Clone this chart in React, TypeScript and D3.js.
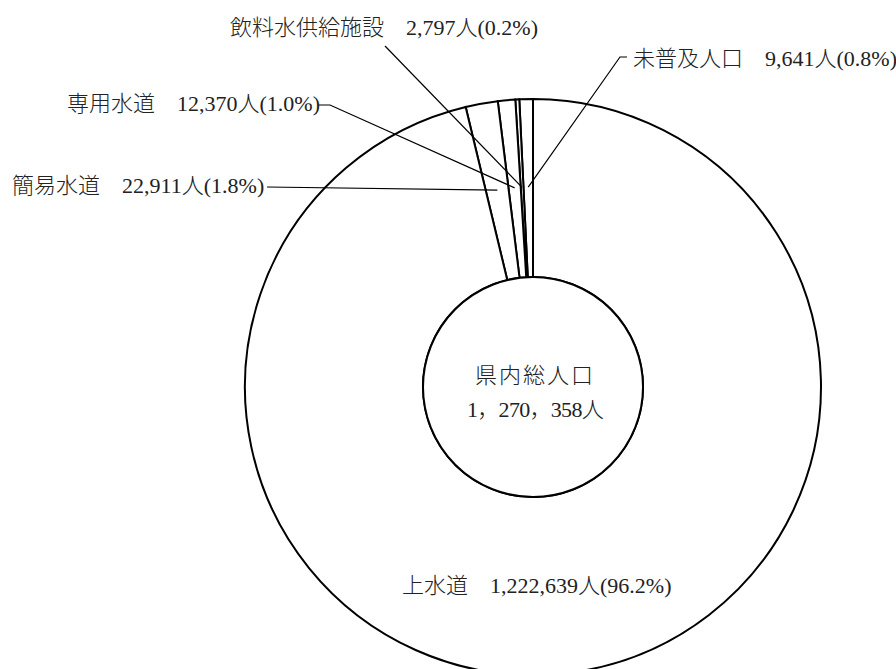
import React from 'react';
import * as d3 from 'd3';

const categories = ['未普及人口', '飲料水供給施設', '専用水道', '簡易水道', '上水道'];
const populations = [9641, 2797, 12370, 22911, 1222639];
const percentLabels = ['0.8%', '0.2%', '1.0%', '1.8%', '96.2%'];
const totalTitle = '県内総人口';
const totalLabel = '1，270，358人';

const W = 896;
const H = 669;
const CX = 533;
const CY = 387;
const R_OUT = 288;
const R_IN = 110;
const FONT = '"Liberation Serif", "Noto Sans CJK JP", serif';

// label layout: text x, baseline, leader polyline start points
const labelLayout: { x: number; y: number; leader: [number, number][] | null }[] = [
  { x: 633, y: 66, leader: [[627, 57], [620, 57]] },
  { x: 230, y: 35, leader: [[385, 46]] },
  { x: 67, y: 111, leader: [[318, 105], [330, 105]] },
  { x: 12, y: 193, leader: [[267, 187]] },
  { x: 402, y: 593, leader: null },
];

export default function App() {
  const pie = d3
    .pie<number>()
    .sort(null)
    .value((d) => d)
    .startAngle(0)
    .endAngle(-2 * Math.PI);
  const arcs = pie(populations);
  const arc = d3.arc<d3.PieArcDatum<number>>().innerRadius(R_IN).outerRadius(R_OUT);
  const fmt = d3.format(',');
  const anchorRadius = 200;
  const line = d3.line();

  return (
    <svg width={W} height={H} style={{ position: 'absolute', left: 0, top: 0, background: '#fff' }}>
      <g transform={`translate(${CX},${CY})`}>
        {arcs.map((a, i) => (
          <path key={i} d={arc(a) || ''} fill="#fff" stroke="#000" strokeWidth={2} />
        ))}
        <circle r={R_IN} fill="#fff" stroke="#000" strokeWidth={2} />
        <text x={2} y={-4} textAnchor="middle" fontFamily={FONT} fontSize={22} fontWeight={300} letterSpacing={2} fill="#222">
          {totalTitle}
        </text>
        <text x={2} y={30} textAnchor="middle" fontFamily={FONT} fontSize={22} fontWeight={300} letterSpacing={-0.7} fill="#222">
          {totalLabel}
        </text>
      </g>
      {arcs.map((a, i) => {
        const lay = labelLayout[i];
        const mid = (a.startAngle + a.endAngle) / 2;
        const ex = CX + anchorRadius * Math.sin(mid);
        const ey = CY - anchorRadius * Math.cos(mid);
        const pts: [number, number][] = lay.leader ? [...lay.leader, [ex, ey]] : [];
        return (
          <g key={i}>
            {lay.leader && (
              <path d={line(pts) || ''} fill="none" stroke="#000" strokeWidth={1.2} />
            )}
            <text x={lay.x} y={lay.y} fontFamily={FONT} fontSize={22} fontWeight={300} fill="#222">
              {categories[i]}　{fmt(populations[i])}人({percentLabels[i]})
            </text>
          </g>
        );
      })}
    </svg>
  );
}
